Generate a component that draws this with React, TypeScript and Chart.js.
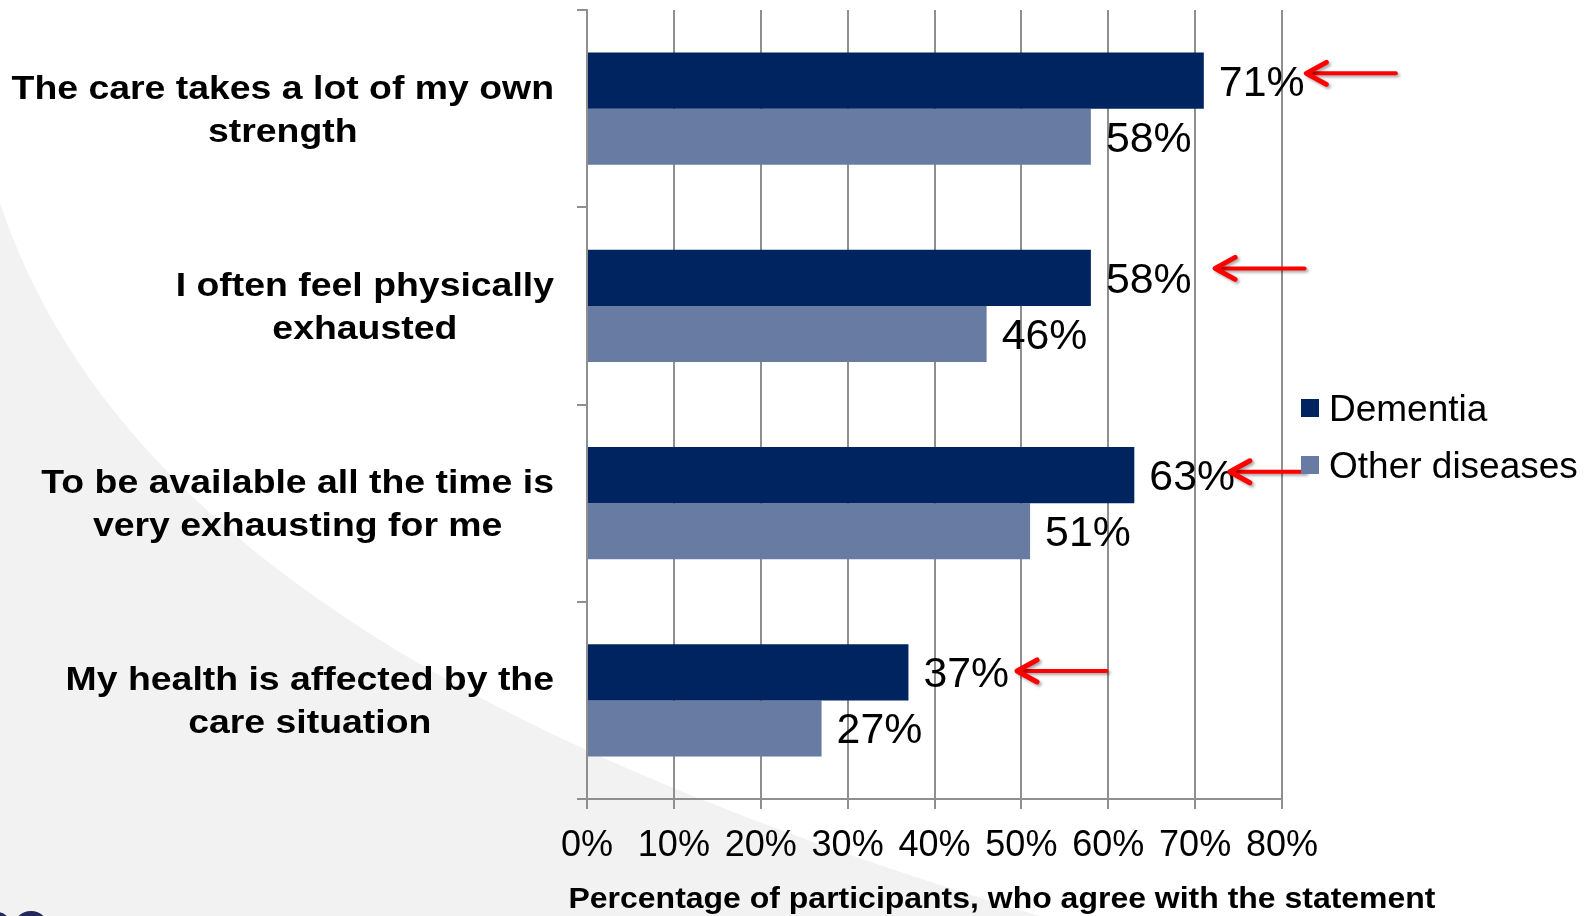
import React, { useEffect, useRef } from 'react';
import { Chart, registerables } from 'chart.js';

Chart.register(...registerables);

// ---------- data ----------
const categories: string[][] = [
  ['The care takes a lot of my own', 'strength'],
  ['I often feel physically', 'exhausted'],
  ['To be available all the time is', 'very exhausting for me'],
  ['My health is affected by the', 'care situation'],
];
const seriesNames = ['Dementia', 'Other diseases'];
const dementia = [71, 58, 63, 37];
const otherDiseases = [58, 46, 51, 27];
const xMin = 0;
const xMax = 80;
const xStep = 10;
const axisTitle = 'Percentage of participants, who agree with the statement';
// red annotation arrows (data space: x in %, y in category index units)
const arrowHead = [82.8, 72.3, 74.0, 49.5];
const arrowTail = [93.1, 82.6, 82.6, 59.8];
const arrowAt = [-0.179, 0.81, 1.841, 2.851];

const colors = ['#00245f', '#687ca3'];
const gridColor = '#8f8f8f';
const FONT = "'Liberation Sans', Arial, sans-serif";

const decorPlugin = {
  id: 'decor',
  beforeDraw(chart: any) {
    const ctx = chart.ctx as CanvasRenderingContext2D;
    const w = chart.width;
    const h = chart.height;
    ctx.save();
    ctx.fillStyle = '#ffffff';
    ctx.fillRect(0, 0, w, h);
    // gray swoosh at bottom-left
    ctx.fillStyle = '#f2f2f2';
    ctx.beginPath();
    ctx.moveTo(0, 203);
    ctx.bezierCurveTo(120, 563, 540, 766, 1040, h);
    ctx.lineTo(0, h);
    ctx.closePath();
    ctx.fill();
    // partial logo at bottom-left
    ctx.fillStyle = '#25285c';
    ctx.beginPath();
    ctx.arc(-3, 926, 14, 0, Math.PI * 2);
    ctx.fill();
    ctx.strokeStyle = '#25285c';
    ctx.lineWidth = 8;
    ctx.beginPath();
    ctx.arc(31, 929, 14, 0, Math.PI * 2);
    ctx.stroke();
    ctx.restore();
  },
  afterDraw(chart: any) {
    const ctx = chart.ctx as CanvasRenderingContext2D;
    const yScale = chart.scales.y;
    const xScale = chart.scales.x;
    const area = chart.chartArea;
    ctx.save();

    // category labels (bold, centred lines, right-aligned block)
    const sx = 1.1;
    ctx.font = `bold 34px ${FONT}`;
    ctx.fillStyle = '#000';
    ctx.textAlign = 'center';
    ctx.textBaseline = 'alphabetic';
    const rightEdge = area.left - 33;
    categories.forEach((lines, i) => {
      const c = yScale.getPixelForValue(i);
      const bw = Math.max(...lines.map((l) => ctx.measureText(l).width)) * sx;
      const cx = rightEdge - bw / 2;
      lines.forEach((line, j) => {
        ctx.save();
        ctx.translate(cx, c - 10 + j * 43);
        ctx.scale(sx, 1);
        ctx.fillText(line, 0, 0);
        ctx.restore();
      });
    });

    // value labels
    ctx.font = `42px ${FONT}`;
    ctx.textAlign = 'left';
    chart.data.datasets.forEach((ds: any, d: number) => {
      const meta = chart.getDatasetMeta(d);
      meta.data.forEach((el: any, i: number) => {
        ctx.save();
        ctx.translate(el.x + 15, el.y + 15);
        ctx.scale(1.02, 1);
        ctx.fillText(ds.data[i] + '%', 0, 0);
        ctx.restore();
      });
    });

    // red arrows
    ctx.save();
    ctx.strokeStyle = '#ff0000';
    ctx.lineCap = 'round';
    ctx.lineJoin = 'round';
    ctx.shadowColor = 'rgba(0,0,0,0.35)';
    ctx.shadowBlur = 3;
    ctx.shadowOffsetX = 2;
    ctx.shadowOffsetY = 2;
    arrowHead.forEach((hv, i) => {
      const hx = xScale.getPixelForValue(hv);
      const tx = xScale.getPixelForValue(arrowTail[i]);
      const y = yScale.getPixelForValue(arrowAt[i]);
      ctx.lineWidth = 4;
      ctx.beginPath();
      ctx.moveTo(tx, y);
      ctx.lineTo(hx + 3, y);
      ctx.stroke();
      ctx.lineWidth = 5;
      ctx.beginPath();
      ctx.moveTo(hx + 20, y - 11);
      ctx.lineTo(hx, y);
      ctx.lineTo(hx + 20, y + 11);
      ctx.stroke();
    });
    ctx.restore();

    // legend
    ctx.font = `37px ${FONT}`;
    ctx.textAlign = 'left';
    const legendX = area.right + 19;
    const legendY = [408, 465];
    seriesNames.forEach((name, i) => {
      ctx.fillStyle = colors[i];
      ctx.fillRect(legendX, legendY[i] - 9, 18, 18);
      ctx.fillStyle = '#000';
      ctx.fillText(name, legendX + 28, legendY[i] + 13);
    });

    // axis title (condensed bold)
    ctx.font = `bold 30px ${FONT}`;
    ctx.textAlign = 'center';
    const tw = ctx.measureText(axisTitle).width;
    const tsx = 867 / tw;
    ctx.save();
    ctx.translate(1002, 908);
    ctx.scale(tsx, 1);
    ctx.fillText(axisTitle, 0, 0);
    ctx.restore();

    ctx.restore();
  },
};

export default function App() {
  const ref = useRef<HTMLCanvasElement | null>(null);
  useEffect(() => {
    if (!ref.current) return;
    const chart = new Chart(ref.current, {
      type: 'bar',
      data: {
        labels: categories.map((c) => c.join(' ')),
        datasets: [
          {
            label: seriesNames[0],
            data: dementia,
            backgroundColor: colors[0],
            categoryPercentage: 0.568,
            barPercentage: 1,
          },
          {
            label: seriesNames[1],
            data: otherDiseases,
            backgroundColor: colors[1],
            categoryPercentage: 0.568,
            barPercentage: 1,
          },
        ],
      },
      options: {
        indexAxis: 'y',
        responsive: false,
        animation: false,
        layout: { padding: { top: 10, right: 312, left: 0, bottom: 0 } },
        plugins: {
          legend: { display: false },
          tooltip: { enabled: false },
          title: { display: false },
        },
        scales: {
          x: {
            type: 'linear',
            min: xMin,
            max: xMax,
            afterFit: (s: any) => {
              s.height = 117;
            },
            ticks: {
              stepSize: xStep,
              padding: 15,
              color: '#000',
              font: { family: FONT, size: 36 },
              callback: (v: any) => v + '%',
            },
            grid: {
              color: gridColor,
              lineWidth: 2,
              tickLength: 10,
              drawTicks: true,
            },
            border: { display: true, color: gridColor, width: 2 },
          },
          y: {
            type: 'category',
            afterFit: (s: any) => {
              s.width = 587;
            },
            ticks: { display: false },
            grid: {
              offset: true,
              drawOnChartArea: false,
              drawTicks: true,
              tickLength: 10,
              color: gridColor,
              lineWidth: 2,
            },
            border: { display: true, color: gridColor, width: 2 },
          },
        },
      },
      plugins: [decorPlugin],
    });
    return () => chart.destroy();
  }, []);
  return (
    <div style={{ position: 'fixed', left: 0, top: 0, width: 1594, height: 916 }}>
      <canvas ref={ref} width={1594} height={916} style={{ display: 'block' }} />
    </div>
  );
}
